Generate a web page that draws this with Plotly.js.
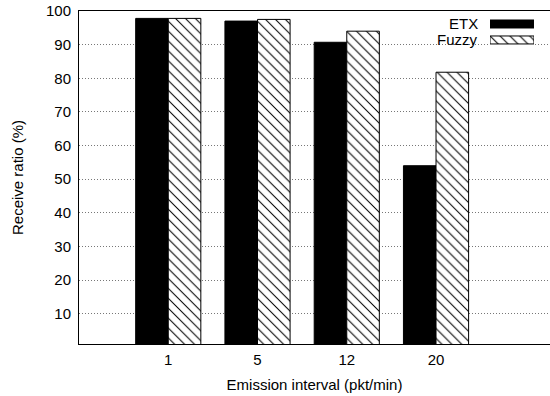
<!DOCTYPE html>
<html>
<head>
<meta charset="utf-8">
<script src="https://cdn.plot.ly/plotly-3.0.1.min.js"></script>
<style>html,body{margin:0;padding:0;overflow:hidden;background:#fff}#chart{width:550px;height:396px}</style>
</head>
<body>
<div id="chart"></div>
<script>
const categories = ['1', '5', '12', '20'];
const etx = [97.8, 97.0, 90.7, 54.0];
const fuzzy = [97.8, 97.5, 94.0, 81.8];
const seriesNames = ['ETX', 'Fuzzy'];
const yTicks = [10, 20, 30, 40, 50, 60, 70, 80, 90, 100];

const font = {family: 'Liberation Sans, Arial, sans-serif', size: 15, color: '#000'};
const hatch = {shape: '\\', fgcolor: '#000', bgcolor: '#fff', size: 7, solidity: 0.15};

const traces = [
  {type: 'bar', name: seriesNames[0], x: categories, y: etx,
   marker: {color: '#000', line: {color: '#000', width: 1}}, showlegend: false, hoverinfo: 'none'},
  {type: 'bar', name: seriesNames[1], x: categories, y: fuzzy,
   marker: {color: '#fff', line: {color: '#000', width: 1}, pattern: hatch},
   showlegend: false, hoverinfo: 'none'},
  // legend samples (gnuplot style: text then sample)
  {type: 'bar', orientation: 'h', xaxis: 'x2', yaxis: 'y2',
   y: [seriesNames[0]], x: [1], width: 0.5, offset: -0.25,
   marker: {color: '#000', line: {color: '#000', width: 1}},
   showlegend: false, hoverinfo: 'none'},
  {type: 'bar', orientation: 'h', xaxis: 'x2', yaxis: 'y2',
   y: [seriesNames[1]], x: [1], width: 0.5, offset: -0.25,
   marker: {color: '#fff', line: {color: '#000', width: 1}, pattern: hatch},
   showlegend: false, hoverinfo: 'none'}
];

const layout = {
  width: 550, height: 396,
  margin: {l: 79, r: 0, t: 11, b: 52},
  paper_bgcolor: '#fff', plot_bgcolor: '#fff',
  font: font,
  barmode: 'group', bargap: 0.27, bargroupgap: 0,
  xaxis: {type: 'category', range: [-1, 4.277], showline: true, mirror: true,
          linecolor: '#000', linewidth: 1, showgrid: false, ticks: '',
          ticklabelstandoff: 2,
          title: {text: 'Emission interval (pkt/min)', font: font, standoff: 12}},
  yaxis: {range: [1, 100], tickvals: yTicks, showline: true, linecolor: '#000', linewidth: 1,
          showgrid: true, gridcolor: '#777', griddash: '1px,2px', gridwidth: 1, zeroline: false,
          ticks: '', ticklabelstandoff: 4,
          title: {text: 'Receive ratio (%)', font: font, standoff: 18}},
  xaxis2: {domain: [0.8726, 0.966], anchor: 'y2', range: [0, 1], visible: false, fixedrange: true},
  yaxis2: {domain: [0.889, 0.985], anchor: 'x2', type: 'category', categoryorder: 'array',
           categoryarray: ['Fuzzy', 'ETX'], visible: false, fixedrange: true},
  annotations: seriesNames.map((n, i) => ({
    text: n, xref: 'paper', yref: 'paper', x: 0.8514, y: [0.9625, 0.914][i],
    xanchor: 'right', yanchor: 'middle', showarrow: false, font: font
  }))
};

Plotly.newPlot('chart', traces, layout, {staticPlot: true, displayModeBar: false});
</script>
</body>
</html>
